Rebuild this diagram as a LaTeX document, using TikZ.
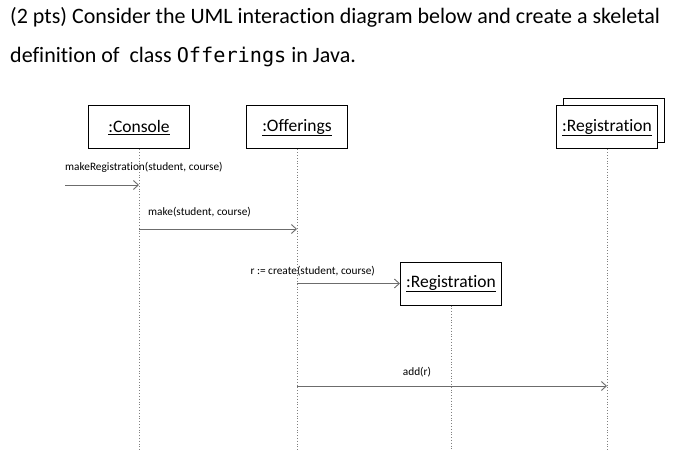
\documentclass[tikz,border=0pt]{standalone}
\usepackage{fontspec}
\setmainfont{Carlito}[Ligatures=NoCommon]
\newfontfamily\codefont{DejaVu Sans Mono}[Scale=0.92]
\usetikzlibrary{arrows.meta}
\tikzset{
  objbox/.style={draw,line width=1pt,fill=white,minimum width=101pt,minimum height=43pt,
    inner sep=0pt,font=\fontsize{17.5}{19}\selectfont},
  lifeline/.style={gray,dotted,line width=0.8pt},
  msg/.style={gray!85!black,line width=0.9pt,-{Straight Barb[length=5pt,width=9pt]}},
  msglabel/.style={inner sep=0pt,font=\fontsize{11.3}{13}\selectfont},
}
\begin{document}
\begin{tikzpicture}[x=1pt,y=-1pt]
			\useasboundingbox (0,0) rectangle (678,468);
			\node[anchor=base west,inner sep=0pt,font=\fontsize{22}{24}\selectfont] (line1) at (10,24) {(2 pts) Consider the UML interaction diagram below and create a skeletal};
			\node[anchor=base west,inner sep=0pt,font=\fontsize{22}{24}\selectfont] (line2) at (10,63) {definition of\ \ class {\codefont Offerings} in Java.};
			% objects
			\node[objbox] (console) at (139,127.5) {\underline{:Console}};
			\node[objbox] (offerings) at (297,127.5) {\underline{:Offerings}};
			\draw[line width=1pt] (563,99) rectangle (664,143);
			\node[objbox] (regset) at (607,127.5) {\underline{:Registration}};
			\node[objbox] (reg) at (451,283.5) {\underline{:Registration}};
			% lifelines
			\draw[lifeline] (console.south) -- (console.south |- 0,450);
			\draw[lifeline] (offerings.south) -- (offerings.south |- 0,450);
			\draw[lifeline] (regset.south) -- (regset.south |- 0,450);
			\draw[lifeline] (reg.south) -- (reg.south |- 0,450);
			% messages
			\coordinate (start) at (65,185);
			\draw[msg] (start) -- (console.south |- start);
			\node[msglabel,anchor=west] (makereg) at (65,167) {makeRegistration(student, course)};
			\draw[msg] (console.south |- 0,229) -- (offerings.south |- 0,229);
			\node[msglabel,anchor=west] (make) at (148,212) {make(student, course)};
			\draw[msg] (offerings.south |- reg.west) -- (reg.west);
			\node[msglabel,anchor=east] (create) at (375,271) {r := create(student, course)};
			\draw[msg] (offerings.south |- 0,386) -- (regset.south |- 0,386);
			\node[msglabel] (add) at (417,372) {add(r)};
		\end{tikzpicture}
\end{document}
